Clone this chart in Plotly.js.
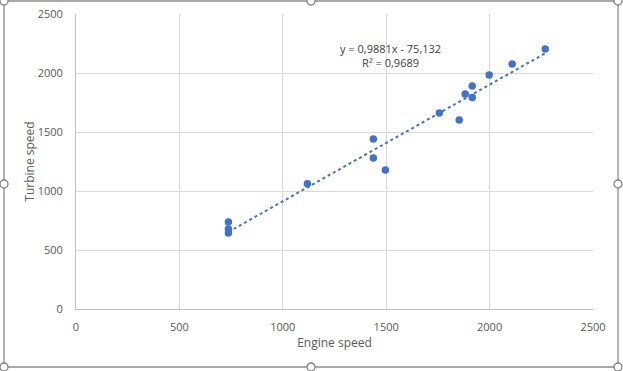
<!DOCTYPE html>
<html>
<head>
<meta charset="utf-8">
<script src="https://cdn.plot.ly/plotly-3.0.1.min.js"></script>
<style>html,body{margin:0;padding:0;background:#fff;}#chart{width:623px;height:371px;}</style>
</head>
<body>
<div id="chart"></div>
<script>
const engineSpeed = [2269, 2109, 1998, 1916, 1882, 1916, 1757, 1853, 1438, 1438, 1496, 1119, 737, 737, 737];
const turbineSpeed = [2203, 2076, 1983, 1890, 1822, 1793, 1661, 1602, 1441, 1280, 1178, 1062, 737, 678, 644];
const slope = 0.9881;
const intercept = -75.132;
const equationText = 'y = 0,9881x - 75,132<br>R² = 0,9689';
const xTitle = 'Engine speed';
const yTitle = 'Turbine speed';

const xMin = Math.min(...engineSpeed), xMax = Math.max(...engineSpeed);
const trendX = [xMin, xMax];
const trendY = trendX.map(x => slope * x + intercept);

const font = "Open Sans, Liberation Sans, sans-serif";
const traces = [
  {x: trendX, y: trendY, mode: 'lines', type: 'scatter',
   line: {color: '#4472C4', width: 2, dash: 'dot'}, hoverinfo: 'skip'},
  {x: engineSpeed, y: turbineSpeed, mode: 'markers', type: 'scatter',
   marker: {color: '#4472C4', size: 7.5}}
];

const handle = (x, y) => ({type: 'circle', xref: 'paper', yref: 'paper', xsizemode: 'pixel', ysizemode: 'pixel',
  xanchor: x, yanchor: y, x0: -4, x1: 4, y0: -4, y1: 4,
  line: {color: '#808080', width: 1.3}, fillcolor: '#ffffff'});

// paper coordinates: plot area from x=76 to 593, y=14 to 309
const px = v => (v - 76) / (593 - 76);
const py = v => (309 - v) / (309 - 14);

const layout = {
  width: 623, height: 371,
  margin: {l: 76, r: 30, t: 14, b: 62},
  paper_bgcolor: '#ffffff', plot_bgcolor: '#ffffff',
  showlegend: false,
  font: {family: font, color: '#595959', size: 11},
  xaxis: {range: [0, 2500], dtick: 500, showgrid: true, gridcolor: '#d9d9d9', gridwidth: 1,
    zeroline: false, showline: true, linecolor: '#bfbfbf', linewidth: 1, ticks: '', ticklabelstandoff: 8,
    tickfont: {size: 11, color: '#595959', family: font},
    title: {text: xTitle, font: {size: 12, color: '#595959', family: font}, standoff: 5}},
  yaxis: {range: [0, 2500], dtick: 500, showgrid: true, gridcolor: '#d9d9d9', gridwidth: 1,
    zeroline: false, showline: true, linecolor: '#bfbfbf', linewidth: 1, ticks: '', ticklabelstandoff: 10,
    tickfont: {size: 11, color: '#595959', family: font},
    title: {text: yTitle, font: {size: 12, color: '#595959', family: font}, standoff: 0}},
  annotations: [{x: 1520, y: 2145, xref: 'x', yref: 'y', text: equationText, showarrow: false,
    font: {size: 11, color: '#404040', family: font}, align: 'center'}],
  shapes: [
    {type: 'rect', xref: 'paper', yref: 'paper', x0: px(4), x1: px(618), y0: py(367), y1: py(1),
     line: {color: '#8c8c8c', width: 1.3}, fillcolor: 'rgba(0,0,0,0)', layer: 'below'},
    handle(px(4), py(1)), handle(px(311), py(1)), handle(px(618), py(1)),
    handle(px(4), py(184)), handle(px(618), py(184)),
    handle(px(4), py(367)), handle(px(311), py(367)), handle(px(618), py(367))
  ]
};
Plotly.newPlot('chart', traces, layout, {displayModeBar: false, staticPlot: true});
</script>
</body>
</html>
